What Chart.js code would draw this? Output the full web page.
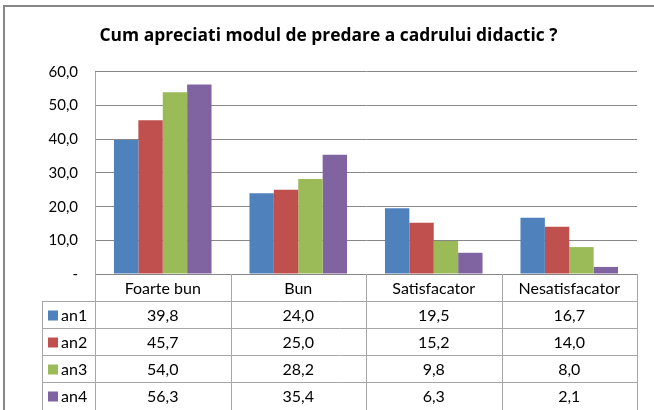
<!DOCTYPE html>
<html>
<head>
<meta charset="utf-8">
<script src="https://cdn.jsdelivr.net/npm/chart.js@4"></script>
<style>
  html, body { margin: 0; padding: 0; background: #fff; }
  #wrap { position: relative; width: 654px; height: 410px; }
  #frame { position: absolute; left: 3px; top: 5px; width: 660px; height: 420px; border-left: 2px solid #878787; border-top: 2px solid #878787; box-sizing: border-box; }
</style>
</head>
<body>
<div id="wrap">
  <canvas id="bar" width="654" height="410"></canvas>
  <div id="frame"></div>
</div>
<script>
"use strict";

const categories = ["Foarte bun", "Bun", "Satisfacator", "Nesatisfacator"];
const seriesNames = ["an1", "an2", "an3", "an4"];
const an1 = [39.8, 24.0, 19.5, 16.7];
const an2 = [45.7, 25.0, 15.2, 14.0];
const an3 = [54.0, 28.2, 9.8, 8.0];
const an4 = [56.3, 35.4, 6.3, 2.1];
const yTicks = [0, 10, 20, 30, 40, 50, 60];
const seriesColors = ["#4F81BD", "#C0504D", "#9BBB59", "#8064A2"];

const FONT = "Lato, 'Liberation Sans', sans-serif";

function formatNumber(v) {
    if (v === 0) return "-";
    return v.toFixed(1).replace(".", ",");
}

/**
 * plugin som ritar datatabellen under diagrammet
 */
const dataTable = {
    id: "dataTable",
    afterDraw(chart) {
        const ctx = chart.ctx;
        const x = chart.scales.x;
        const area = chart.chartArea;
        const n = categories.length;
        const colW = (area.right - area.left) / n;
        const headerTop = area.bottom;
        const rowH = 27;
        const legendLeft = 42;
        const allValues = [an1, an2, an3, an4];

        ctx.save();
        ctx.strokeStyle = "#A6A6A6";
        ctx.lineWidth = 1;
        // vertikala linjer
        for (let i = 0; i <= n; i++) {
            const px = Math.round(area.left + i * colW) + 0.5;
            ctx.beginPath();
            ctx.moveTo(px, i === 0 ? area.top : headerTop);
            ctx.lineTo(px, chart.height);
            ctx.stroke();
        }
        ctx.beginPath();
        ctx.moveTo(legendLeft + 0.5, headerTop + rowH);
        ctx.lineTo(legendLeft + 0.5, chart.height);
        ctx.stroke();
        // horisontella linjer
        for (let r = 1; r <= seriesNames.length; r++) {
            const py = Math.round(headerTop + r * rowH) + 0.5;
            ctx.beginPath();
            ctx.moveTo(legendLeft, py);
            ctx.lineTo(area.right, py);
            ctx.stroke();
        }

        ctx.fillStyle = "#000";
        ctx.font = "16px " + FONT;
        ctx.textAlign = "center";
        ctx.textBaseline = "middle";
        categories.forEach((c, i) => {
            ctx.fillText(c, x.getPixelForTick(i), headerTop + rowH / 2 + 1);
        });
        seriesNames.forEach((s, r) => {
            const cy = headerTop + (r + 1) * rowH + rowH / 2 + 1;
            ctx.fillStyle = seriesColors[r];
            ctx.fillRect(48, cy - 5, 10, 10);
            ctx.fillStyle = "#000";
            ctx.textAlign = "left";
            ctx.fillText(s, 61, cy);
            ctx.textAlign = "center";
            allValues[r].forEach((v, i) => {
                ctx.fillText(formatNumber(v), x.getPixelForTick(i), cy);
            });
        });
        ctx.restore();
    }
};

const barDiagram = document.getElementById("bar").getContext("2d");
new Chart(barDiagram, {
    type: "bar",
    data: {
        labels: categories,
        datasets: [an1, an2, an3, an4].map((d, i) => ({
            label: seriesNames[i],
            data: d,
            backgroundColor: seriesColors[i],
            borderWidth: 0,
            categoryPercentage: 0.72,
            barPercentage: 1
        }))
    },
    options: {
        responsive: false,
        animation: false,
        layout: { padding: { left: 20, right: 17, top: 0, bottom: 0 } },
        plugins: {
            legend: { display: false },
            tooltip: { enabled: false },
            title: {
                display: true,
                text: "Cum apreciati modul de predare a cadrului didactic ?",
                color: "#000",
                font: { family: "'Open Sans', sans-serif", size: 17.4, weight: "bold" },
                padding: { top: 25.5, bottom: 25.6 }
            }
        },
        scales: {
            x: {
                ticks: { display: false },
                grid: { display: false },
                border: { display: false },
                afterFit(scale) { scale.height = 136; }
            },
            y: {
                min: 0,
                max: 60,
                afterBuildTicks(scale) { scale.ticks = yTicks.map(v => ({ value: v })); },
                ticks: {
                    color: "#000",
                    padding: 17,
                    font: { family: FONT, size: 15 },
                    callback: v => formatNumber(v)
                },
                grid: { color: "#878787", drawTicks: false },
                border: { display: true, color: "#878787" },
                afterFit(scale) { scale.width = 75; }
            }
        }
    },
    plugins: [dataTable]
});
</script>
</body>
</html>
